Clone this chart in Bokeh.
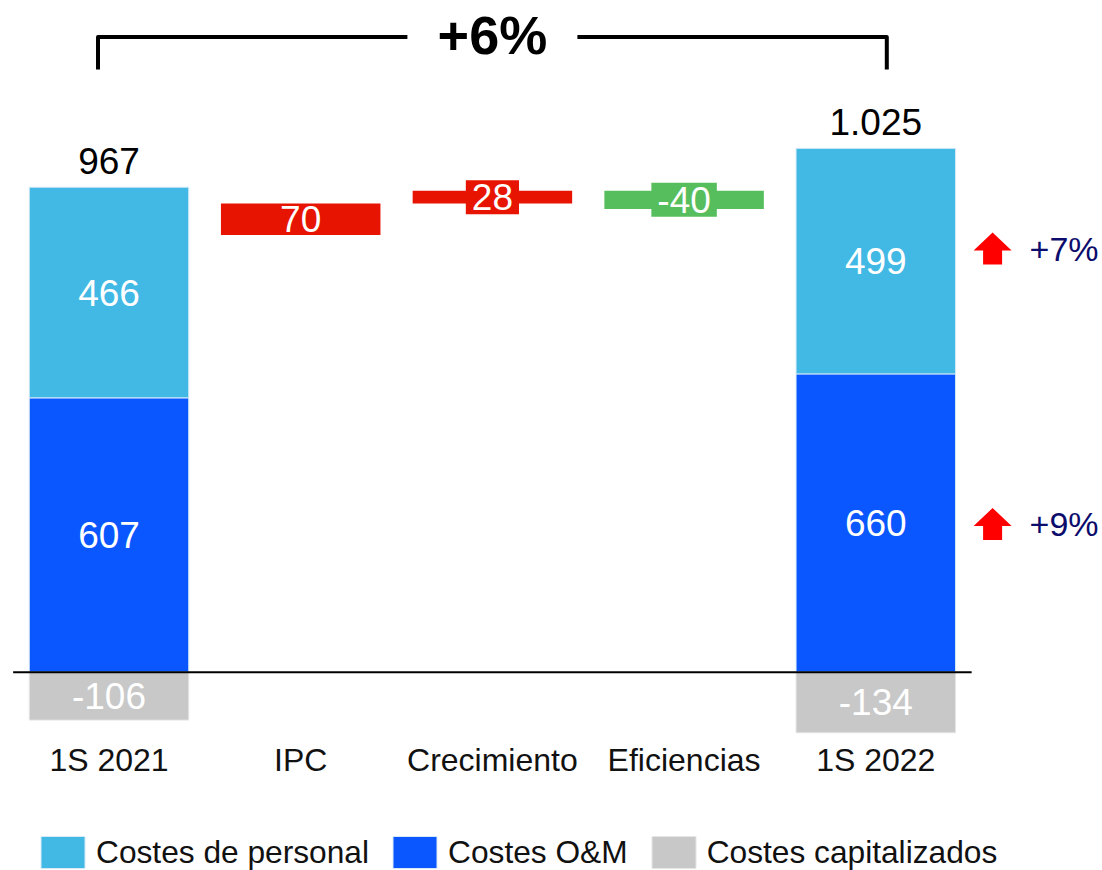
import numpy as np
from bokeh.plotting import figure
from bokeh.models import ColumnDataSource, Range1d, Legend, LegendItem
from bokeh.core.properties import value
from bokeh.embed import file_html
from bokeh.resources import INLINE

# ---------------- data ----------------
categories = ["1S 2021", "IPC", "Crecimiento", "Eficiencias", "1S 2022"]
costes_om = [607, 660]              # 1S 2021, 1S 2022
costes_personal = [466, 499]
costes_capitalizados = [-106, -134]
deltas = [70, 28, -40]              # IPC, Crecimiento, Eficiencias
growth_labels = ["+7%", "+9%"]      # personal, O&M
total_growth_label = "+6%"

# ---------------- layout / style ----------------
W, H = 1102, 870
PX_PER_UNIT = 0.452       # vertical px per value unit
PX_PER_CAT = 191.7        # horizontal px per category
BASE_PX = 671.7           # screen y of value 0
CAT0_PX = 108.5           # screen x of first category
X0, X1 = -CAT0_PX / PX_PER_CAT, (W - CAT0_PX) / PX_PER_CAT
Y0, Y1 = (BASE_PX - H) / PX_PER_UNIT, BASE_PX / PX_PER_UNIT
BW = 0.832
FONT = "Liberation Sans"

C_PERS = "#42B9E5"
C_OM = "#0A57FF"
C_CAP = "#C8C8C8"
C_UP = "#E61400"
C_DOWN = "#57BE5D"
C_ARROW = "#FF0000"
C_NAVY = "#0C0C6C"
EDGE = "#D6EAF8"


def py(px):
    return px / PX_PER_UNIT


def px_x(px):
    return px / PX_PER_CAT


p = figure(width=W, height=H, x_range=Range1d(X0, X1), y_range=Range1d(Y0, Y1),
           output_backend="svg", toolbar_location=None, min_border=0,
           x_axis_type=None, y_axis_type=None, outline_line_color=None)
p.grid.visible = False
p.background_fill_color = "white"
p.border_fill_color = "white"

# ---------------- stacked start / end bars ----------------
x_end = [0, len(categories) - 1]
om = np.array(costes_om)
pers = np.array(costes_personal)
cap = np.array(costes_capitalizados)
tops = om + pers
totals = om + pers + cap

r_om = p.vbar(x=x_end, bottom=0, top=om, width=BW, fill_color=C_OM,
              line_color=EDGE, line_width=1)
r_pers = p.vbar(x=x_end, bottom=om, top=tops, width=BW, fill_color=C_PERS,
                line_color=EDGE, line_width=1)
r_cap = p.vbar(x=x_end, bottom=cap, top=0, width=BW, fill_color=C_CAP,
               line_color="#E6E6E6", line_width=1)

# ---------------- waterfall deltas ----------------
x_delta = list(range(1, len(categories) - 1))
d = np.array(deltas)
d_bottom = totals[0] + np.concatenate([[0], np.cumsum(d)[:-1]])
d_top = d_bottom + d
d_colors = [C_UP if v > 0 else C_DOWN for v in deltas]
p.vbar(x=x_delta, bottom=d_bottom, top=d_top, width=BW, fill_color=d_colors,
       line_color=None)

# baseline axis line
p.segment(x0=[-0.5], x1=[len(categories) - 0.5], y0=[0], y1=[0],
          line_color="black", line_width=2)

# ---------------- labels ----------------
txt = dict(text_font=value(FONT), text_align="center", text_baseline="middle")

seg_x = x_end * 3
seg_y = list(om / 2) + list(om + pers / 2) + list(cap / 2)
seg_t = [str(v) for v in list(om) + list(pers) + list(cap)]
p.text(x=seg_x, y=seg_y, text=seg_t, text_color="white",
       text_font_size="37px", **txt)

mid = (d_bottom + d_top) / 2
thin = np.abs(d) * PX_PER_UNIT < 25
src_thin = ColumnDataSource(dict(x=[x for x, t in zip(x_delta, thin) if t],
                                 y=[m for m, t in zip(mid, thin) if t],
                                 t=[str(v) for v, t in zip(deltas, thin) if t],
                                 c=[c for c, t in zip(d_colors, thin) if t]))
src_thick = ColumnDataSource(dict(x=[x for x, t in zip(x_delta, thin) if not t],
                                  y=[m for m, t in zip(mid, thin) if not t],
                                  t=[str(v) for v, t in zip(deltas, thin) if not t]))
p.text(x="x", y="y", text="t", source=src_thick, text_color="white",
       text_font_size="37px", **txt)
p.text(x="x", y="y", text="t", source=src_thin, text_color="white",
       text_font_size="37px", background_fill_color="c",
       padding=dict(left=6, right=6, top=4, bottom=4), **txt)

# totals above the start/end bars
tot_t = [f"{v:,}".replace(",", ".") for v in totals]
p.text(x=x_end, y=tops + py(26), text=tot_t, text_color="black",
       text_font_size="37px", **txt)

# category labels
p.text(x=list(range(len(categories))), y=[-py(88)] * len(categories),
       text=categories, text_color="#111111", text_font_size="32px", **txt)

# ---------------- bracket with total growth ----------------
br_y = py(BASE_PX - 36.5)
br_tick = py(BASE_PX - 69)
br_l, br_r = -px_x(11), len(categories) - 1 + px_x(11)
gap = px_x(85)
cx = (len(categories) - 1) / 2
p.multi_line(xs=[[br_l, br_l, cx - gap], [cx + gap, br_r, br_r]],
             ys=[[br_tick, br_y, br_y], [br_y, br_y, br_tick]],
             line_color="black", line_width=4, line_join="round")
p.text(x=[cx], y=[br_y + py(2)], text=[total_growth_label], text_color="black",
       text_font_size="54px", text_font_style="bold", **txt)

# ---------------- growth arrows ----------------
arrow_cy_px = [248, 523.5]
arrow_cx = 4 + px_x(992 - 875.2)
shape = [(0, -16), (19, 2), (9.5, 2), (9.5, 16), (-9.5, 16), (-9.5, 2), (-19, 2)]
xs, ys = [], []
for cy_px in arrow_cy_px:
    cy = py(BASE_PX - cy_px)
    xs.append([arrow_cx + px_x(sx) for sx, sy in shape])
    ys.append([cy - py(sy) for sx, sy in shape])
p.patches(xs=xs, ys=ys, fill_color=C_ARROW, line_color=None)
p.text(x=[4 + px_x(1029 - 875.2)] * 2,
       y=[py(BASE_PX - c) for c in arrow_cy_px], text=growth_labels,
       text_color=C_NAVY, text_font_size="34px", text_font=value(FONT),
       text_align="left", text_baseline="middle")

# ---------------- legend ----------------
# bar legend glyphs are inset by 10% on each side, so the glyph box is enlarged
legend = Legend(items=[LegendItem(label="Costes de personal", renderers=[r_pers]),
                       LegendItem(label="Costes O&M", renderers=[r_om]),
                       LegendItem(label="Costes capitalizados", renderers=[r_cap])],
                orientation="horizontal", location=(35, -2),
                glyph_width=55, glyph_height=40, label_standoff=6, spacing=18,
                padding=0, margin=0, border_line_color=None,
                background_fill_alpha=0, label_text_font=FONT,
                label_text_font_size="31.7px", label_text_color="#111111",
                label_height=40, label_text_baseline="middle")
p.add_layout(legend)

open("out.html", "w").write(file_html(p, INLINE))
